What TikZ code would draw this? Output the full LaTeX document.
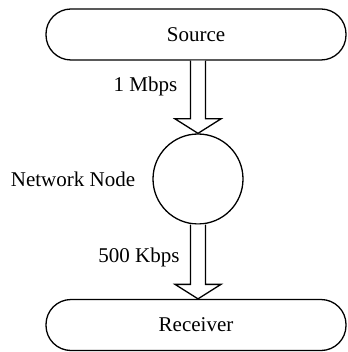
\documentclass[tikz,border=0pt]{standalone}
\usepackage{fontspec}
\setmainfont{Liberation Serif}
\usetikzlibrary{calc}
\tikzset{
  endpoint/.style={draw, line width=1.3pt, rounded corners=25pt, minimum width=300pt,
                   minimum height=51pt, inner sep=0pt, font=\fontsize{21}{24}\selectfont},
  hub/.style={draw, circle, line width=1.3pt, minimum size=90pt, inner sep=0pt},
  label/.style={font=\fontsize{21}{24}\selectfont, anchor=base, inner sep=0pt},
  arrowline/.style={draw, line width=1.3pt, line join=miter, fill=white}
}
% hollow block arrow from the bottom of #1 down to #2
\newcommand\fatarrow[2]{%
  \path[arrowline] ($(#1)+(-7.5,0)$) -- ($(#2)+(-7.5,-14.5)$) -- ($(#2)+(-23,-14.5)$)
    -- (#2) -- ($(#2)+(23,-14.5)$) -- ($(#2)+(7.5,-14.5)$) -- ($(#1)+(7.5,0)$);}
\begin{document}
\begin{tikzpicture}[x=1pt, y=-1pt]
  \useasboundingbox (0,0) rectangle (347,352);
  \node[endpoint] (src) at (196,34.5) {Source};
  \node[hub] (net) at (198,179) {};
  \node[endpoint] (rcv) at (196,325) {Receiver};
  \coordinate (srcout) at (src.south -| net.north);
  \fatarrow{srcout}{net.north}
  \coordinate (rcvin) at (rcv.north -| net.south);
  \fatarrow{net.south}{rcvin}
  \node[label] (rate1) at (145.5,92) {1 Mbps};
  \node[label] (netlbl) at (73,186) {Network Node};
  \node[label] (rate2) at (139,262.5) {500 Kbps};
\end{tikzpicture}
\end{document}
